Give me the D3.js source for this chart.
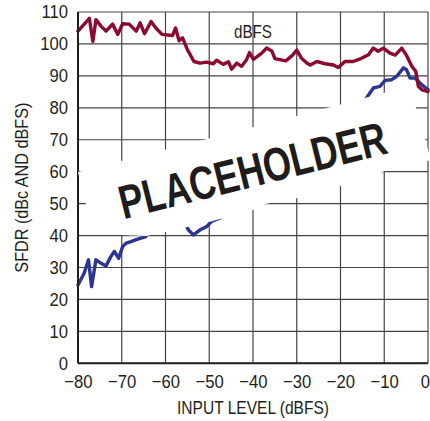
<!DOCTYPE html>
<html>
<head>
<meta charset="utf-8">
<script src="https://cdn.jsdelivr.net/npm/d3@7"></script>
<style>
  html, body { margin: 0; padding: 0; background: #fff; }
  svg { display: block; }
  .lbl { font-family: "Liberation Sans", Arial, Helvetica, sans-serif; fill: #231f20; }
</style>
</head>
<body>
<svg id="chart" width="430" height="421"></svg>
<script>
// ---- data ----
const xTicks = [-80, -70, -60, -50, -40, -30, -20, -10, 0];
const yTicks = [0, 10, 20, 30, 40, 50, 60, 70, 80, 90, 100, 110];

const dbfsLevel = [-80,-77.4,-76.6,-75.9,-74.7,-73.6,-72.1,-70.9,-69.8,-68.3,-66.7,-65.8,-64.8,-63.3,-62.2,-60.8,-59.5,-58.4,-57.7,-56.9,-56.1,-55,-53.5,-52.1,-50.6,-49.1,-48.3,-46.8,-45.6,-44.9,-43.7,-42.6,-41.5,-40.8,-39.9,-38,-36.9,-35.7,-35,-32.5,-31,-30,-28.9,-27.7,-26.9,-25.4,-23.5,-21.6,-20.5,-19,-17.1,-15.2,-13.6,-12.5,-11.4,-10.2,-8.7,-7.5,-6,-4.9,-3.7,-2.8,-2.2,-1.3,0];
const dbfsValue = [104,108,100.8,107.6,105.5,104,106.2,103,106.3,106.2,104,106.6,103.2,107,105,103,102.8,102.6,105,101,101.9,98.2,94.5,94,94.3,93.8,94.9,93.6,94.4,92.1,94,93,95,97.3,95.2,97.1,98.7,97.8,95.4,94.7,96.4,98.1,95.5,94,93.4,94.5,93.8,93.4,92.6,94.5,94.5,95.5,96.6,98.7,97.7,98.7,97.1,96.5,98.7,96.4,93,91.4,86.7,85.6,85.1];

const dbcLevel = [-80,-78.6,-77.6,-76.9,-75.9,-74.7,-73.6,-72.5,-71.7,-70.7,-69.8,-69,-67.9,-66.7,-65.6,-64.5,-63.3,-62.2,-60.8,-59.5,-58.4,-57.7,-56.9,-56.1,-54.8,-53.6,-52.1,-50.6,-49.5,-47.5,-46,-44.6,-43.5,-42.3,-41.2,-40.5,-39.4,-38.2,-36.9,-35.7,-35,-32.6,-30.7,-30,-28.8,-26.8,-25.3,-23.5,-21.5,-20.6,-19,-17,-15.4,-14.1,-12.5,-11,-9.8,-8.3,-7.2,-5.6,-4.9,-4.1,-3,-1.4,0];
const dbcValue = [24.5,28.2,32.4,24,32.4,31.3,30.5,33.4,35,32.9,36.6,37.6,38.1,38.7,39.2,39.7,43.5,42.8,42.2,43.3,44.2,47.2,44.1,45.8,41.8,40.2,41.8,42.8,44.4,45.5,47.8,47.6,50.5,50.2,54.4,56.8,55.9,59,61.8,61.8,60.3,62.7,65.9,68.1,66.8,66.4,69.2,70.3,71.8,72,75.5,77.5,80,83,86.2,86.7,88.6,88.8,89.8,92.5,91.9,89.3,89.3,87.2,85.7];

const xTitle = "INPUT LEVEL (dBFS)";
const yTitle = "SFDR (dBc AND dBFS)";
const seriesLabel = "dBFS";
const bannerText = "PLACEHOLDER";

// ---- layout ----
const svg = d3.select("#chart");
const pLeft = 78, pRight = 428, pTop = 12, pBottom = 363.3;
const x = d3.scaleLinear().domain([-80, 0]).range([pLeft, pRight]);
const y = d3.scaleLinear().domain([0, 110]).range([pBottom, pTop]);

const red = "#8b0a2e", blue = "#2c3591";

// condense a text element horizontally (Helvetica-condensed look)
function condense(sel, factor) {
  sel.each(function () {
    const w = this.getComputedTextLength();
    d3.select(this).attr("textLength", w * factor).attr("lengthAdjust", "spacingAndGlyphs");
  });
}

// grid
const g = svg.append("g");
g.selectAll("line.v").data(xTicks).join("line")
  .attr("x1", d => x(d)).attr("x2", d => x(d))
  .attr("y1", y(0)).attr("y2", y(110))
  .attr("stroke", "#444").attr("stroke-width", 1.2);
g.selectAll("line.h").data(yTicks).join("line")
  .attr("x1", x(-80)).attr("x2", x(0))
  .attr("y1", d => y(d)).attr("y2", d => y(d))
  .attr("stroke", "#444").attr("stroke-width", 1.2);

// lines
const line = d3.line().x(d => x(d[0])).y(d => y(d[1])).curve(d3.curveLinear);
svg.append("path").datum(d3.zip(dbcLevel, dbcValue))
  .attr("d", line).attr("fill", "none").attr("stroke", blue)
  .attr("stroke-width", 3.4).attr("stroke-linejoin", "round").attr("stroke-linecap", "round");
svg.append("path").datum(d3.zip(dbfsLevel, dbfsValue))
  .attr("d", line).attr("fill", "none").attr("stroke", red)
  .attr("stroke-width", 3.4).attr("stroke-linejoin", "round").attr("stroke-linecap", "round");

// axes lines (left & bottom)
svg.append("line").attr("x1", x(-80)).attr("x2", x(-80)).attr("y1", y(0)).attr("y2", y(110))
  .attr("stroke", "#231f20").attr("stroke-width", 2);
svg.append("line").attr("x1", x(-80)).attr("x2", x(0)).attr("y1", y(0)).attr("y2", y(0))
  .attr("stroke", "#231f20").attr("stroke-width", 2);

// tick labels via d3 axes
const xAxis = svg.append("g").attr("transform", `translate(0,${y(0)})`)
  .call(d3.axisBottom(x).tickValues(xTicks).tickSize(0).tickPadding(12));
const yAxis = svg.append("g").attr("transform", `translate(${x(-80)},0)`)
  .call(d3.axisLeft(y).tickValues(yTicks).tickSize(0).tickPadding(10));
[xAxis, yAxis].forEach(a => {
  a.select(".domain").remove();
  a.selectAll("text").attr("class", "lbl").attr("font-family", null).attr("font-size", null)
    .style("font-size", "18.5px").attr("fill", "#231f20");
  condense(a.selectAll("text"), 0.9);
});
// keep the last x label inside the picture
xAxis.selectAll(".tick").filter(d => d === 0).select("text")
  .attr("text-anchor", "end").attr("x", 1.5);

// series label
svg.append("text").attr("class", "lbl")
  .attr("x", x(-40)).attr("y", y(102)).attr("text-anchor", "middle")
  .style("font-size", "18.5px").attr("textLength", 38).attr("lengthAdjust", "spacingAndGlyphs")
  .text(seriesLabel);

// axis titles
svg.append("text").attr("class", "lbl")
  .attr("x", (pLeft + pRight) / 2).attr("y", 414).attr("text-anchor", "middle")
  .style("font-size", "18.5px").attr("textLength", 152).attr("lengthAdjust", "spacingAndGlyphs")
  .text(xTitle);
svg.append("text").attr("class", "lbl")
  .attr("transform", `translate(27.5,${(pTop + pBottom) / 2 + 0}) rotate(-90)`)
  .attr("text-anchor", "middle")
  .style("font-size", "18.5px").attr("textLength", 170).attr("lengthAdjust", "spacingAndGlyphs")
  .text(yTitle);

// placeholder banner (torn white strip)
const bannerPts = [[78,172],[203,140],[327,108],[410,86],[416,108],[431,160],[385,171],[341,186],[297,198],[265,204],[253,210],[209,222],[166,232],[146,236],[95,234],[88,226],[86,204]];
svg.append("polygon").attr("points", bannerPts.map(p => p.join(",")).join(" "))
  .attr("fill", "#ffffff");
svg.append("text")
  .attr("transform", "translate(256.5,186) rotate(-14)")
  .attr("text-anchor", "middle")
  .attr("textLength", 274).attr("lengthAdjust", "spacingAndGlyphs")
  .style("font-family", '"Liberation Sans", Arial, sans-serif')
  .style("font-weight", "bold").style("font-size", "47px").attr("fill", "#1e1c1d")
  .text(bannerText);
</script>
</body>
</html>
